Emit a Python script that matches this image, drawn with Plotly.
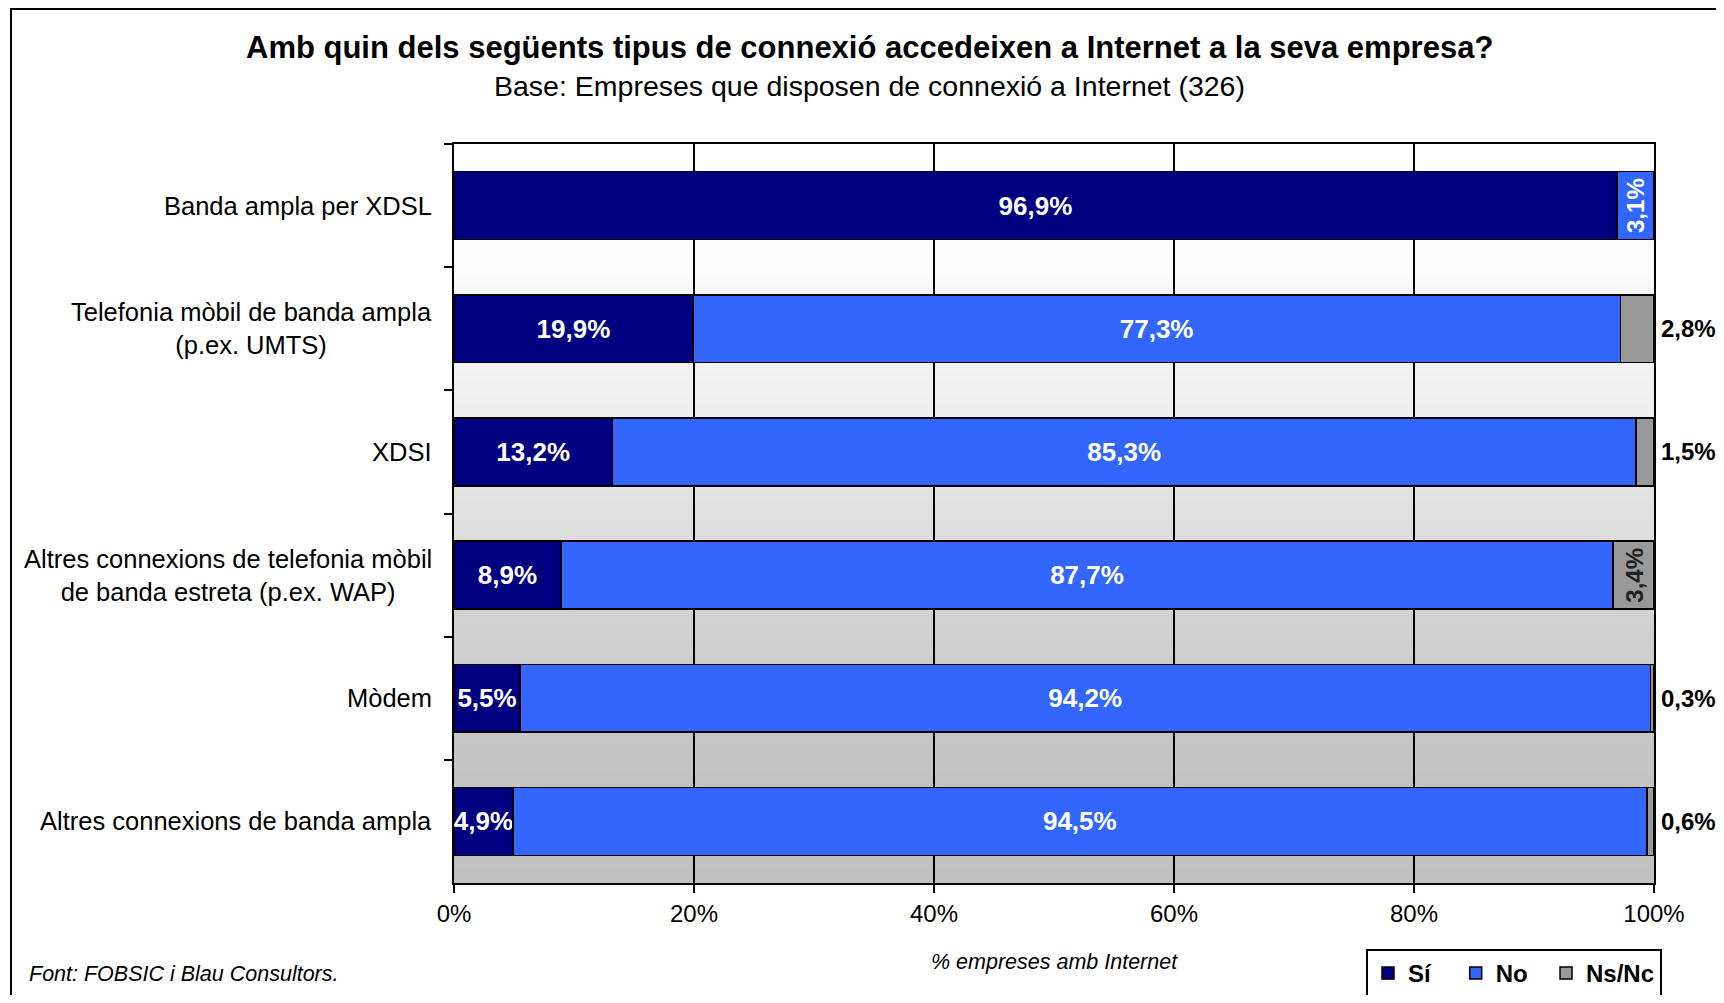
import plotly.graph_objects as go

categories = [
    "Banda ampla per XDSL",
    "Telefonia mòbil de banda ampla<br>(p.ex. UMTS)",
    "XDSI",
    "Altres connexions de telefonia mòbil<br>de banda estreta (p.ex. WAP)",
    "Mòdem",
    "Altres connexions de banda ampla",
]
si = [96.9, 19.9, 13.2, 8.9, 5.5, 4.9]
no = [3.1, 77.3, 85.3, 87.7, 94.2, 94.5]
nsnc = [0.0, 2.8, 1.5, 3.4, 0.3, 0.6]
series_names = ["Sí", "No", "Ns/Nc"]
x_ticks = [0, 20, 40, 60, 80, 100]
x_ticklabels = ["0%", "20%", "40%", "60%", "80%", "100%"]

# labels that are drawn rotated inside narrow segments
rot_no = {0}
rot_ns = {3}

FONT = "Liberation Sans, Arial, sans-serif"
NB = "\u00a0"


def fmt(v):
    return f"{v:.1f}".replace(".", ",") + "%"


# page has an 8px body margin; figure fills the rest of the 1724x1003 window
OFF = 8
W, H = 1724 - 2 * OFF, 1003 - 2 * OFF
PLOT_L, PLOT_R, PLOT_T, PLOT_B = 454, 1654, 144, 883  # page pixels
L = PLOT_L - OFF
T = PLOT_T - OFF
R = W - (PLOT_R - OFF)
B = H - (PLOT_B - OFF)
PW, PH = W - L - R, H - T - B


def px(xp):  # page x pixel -> paper
    return (xp - OFF - L) / PW


def py(yp):  # page y pixel -> paper
    return (H - B - (yp - OFF)) / PH


# legend entry padding (spacing between legend items)
legend_pad = [3, 2, 0]

fig = go.Figure()
fig.add_trace(go.Bar(
    name=series_names[0] + NB * legend_pad[0], y=categories, x=si, orientation="h",
    marker=dict(color="#000080", line=dict(color="black", width=1.5)),
    text=[fmt(v) for v in si], textposition="inside", insidetextanchor="middle",
    textangle=0,
    textfont=dict(color="white", size=26, family=FONT, weight="bold"),
    cliponaxis=False,
))
fig.add_trace(go.Bar(
    name=series_names[1] + NB * legend_pad[1], y=categories, x=no, orientation="h",
    marker=dict(color="#3366FF", line=dict(color="black", width=1.5)),
    text=["" if i in rot_no else fmt(v) for i, v in enumerate(no)],
    textposition="inside", insidetextanchor="middle", textangle=0,
    textfont=dict(color="white", size=26, family=FONT, weight="bold"),
))
fig.add_trace(go.Bar(
    name=series_names[2] + NB * legend_pad[2], y=categories, x=nsnc, orientation="h",
    marker=dict(color="#999999", line=dict(color="black", width=1.5)),
    textposition="none",
))

annotations = []
# category labels (centred lines, right-aligned block)
for c in categories:
    annotations.append(dict(
        x=px(434), xref="paper", y=c, yref="y", xanchor="right", yanchor="middle",
        text=c, align="center", showarrow=False,
        font=dict(family=FONT, size=25.5, color="black"),
    ))
# rotated labels and outside labels
for i, c in enumerate(categories):
    if i in rot_no:
        annotations.append(dict(
            x=si[i] + no[i] / 2, y=c, xref="x", yref="y", text=fmt(no[i]),
            textangle=-90, showarrow=False,
            font=dict(family=FONT, size=24, color="white", weight="bold"),
        ))
    if nsnc[i] > 0:
        if i in rot_ns:
            annotations.append(dict(
                x=si[i] + no[i] + nsnc[i] / 2, y=c, xref="x", yref="y",
                text=fmt(nsnc[i]), textangle=-90, showarrow=False,
                font=dict(family=FONT, size=24, color="#202020", weight="bold"),
            ))
        else:
            annotations.append(dict(
                x=si[i] + no[i] + nsnc[i], y=c, xref="x", yref="y",
                xanchor="left", xshift=5, text=fmt(nsnc[i]), showarrow=False,
                font=dict(family=FONT, size=24, color="black", weight="bold"),
            ))

annotations += [
    dict(x=px(869), y=py(48), xref="paper", yref="paper", showarrow=False,
         text="<b>Amb quin dels següents tipus de connexió accedeixen a Internet a la seva empresa?</b>",
         font=dict(family=FONT, size=31, color="black"), yanchor="middle"),
    dict(x=px(869), y=py(86), xref="paper", yref="paper", showarrow=False,
         text="Base: Empreses que disposen de connexió a Internet (326)",
         font=dict(family=FONT, size=28.5, color="black"), yanchor="middle"),
    dict(x=0.5, y=py(962), xref="paper", yref="paper", showarrow=False,
         text="<i>% empreses amb Internet</i>",
         font=dict(family=FONT, size=21.5, color="black"), yanchor="middle"),
    dict(x=px(27), y=py(974), xref="paper", yref="paper", showarrow=False,
         xanchor="left", text="<i>Font: FOBSIC i Blau Consultors.</i>",
         font=dict(family=FONT, size=21.5, color="black"), yanchor="middle"),
]

# background vertical gradient (white at top to grey at bottom), overlapping rects
stops = [(0.0, 255), (0.167, 250), (0.333, 240), (0.5, 224), (0.667, 208), (0.833, 196), (1.0, 192)]
shapes = []
N = 100
for k in range(N):
    t = (k + 0.5) / N
    for (a, va), (b, vb) in zip(stops[:-1], stops[1:]):
        if a <= t <= b:
            v = va + (vb - va) * (t - a) / (b - a)
            break
    v = int(round(v))
    shapes.append(dict(
        type="rect", xref="paper", yref="paper", x0=0, x1=1,
        y0=0, y1=1 - k / N, layer="below",
        fillcolor=f"rgb({v},{v},{v})", line=dict(width=0),
    ))
# outer chart frame (top and left edges visible)
shapes.append(dict(type="line", xref="paper", yref="paper", x0=px(11), x1=px(1740),
                   y0=py(OFF + 1), y1=py(OFF + 1), line=dict(color="black", width=2)))
shapes.append(dict(type="line", xref="paper", yref="paper", x0=px(11), x1=px(11),
                   y0=py(OFF), y1=py(1010), line=dict(color="black", width=2)))

fig.update_layout(
    width=W, height=H,
    margin=dict(l=L, r=R, t=T, b=B, pad=0, autoexpand=False),
    barmode="stack", bargap=0.45,
    paper_bgcolor="white", plot_bgcolor="white",
    font=dict(family=FONT, color="black"),
    showlegend=True,
    legend=dict(
        orientation="h", xref="container", yref="container",
        x=(1366 - OFF) / W, y=1 - (949 - OFF) / H, xanchor="left", yanchor="top",
        bordercolor="black", borderwidth=2, bgcolor="white",
        font=dict(family=FONT, size=24, color="black", weight="bold"),
        itemwidth=30, traceorder="normal",
    ),
    xaxis=dict(
        range=[0, 100], tickvals=x_ticks, ticktext=x_ticklabels,
        showgrid=True, gridcolor="black", gridwidth=1.5,
        showline=True, linecolor="black", linewidth=2, mirror=True,
        ticks="outside", ticklen=8, tickcolor="black", tickwidth=2,
        tickfont=dict(family=FONT, size=24, color="black"),
        zeroline=False, fixedrange=True, automargin=False,
    ),
    yaxis=dict(
        categoryorder="array", categoryarray=categories, autorange="reversed",
        showticklabels=False, ticks="outside", tickson="boundaries",
        ticklen=8, tickcolor="black", tickwidth=2,
        showline=True, linecolor="black", linewidth=2, mirror=True,
        showgrid=False, zeroline=False, automargin=False,
    ),
    annotations=annotations,
    shapes=shapes,
    uniformtext=dict(minsize=26, mode="show"),
)

fig.write_html("out.html")
